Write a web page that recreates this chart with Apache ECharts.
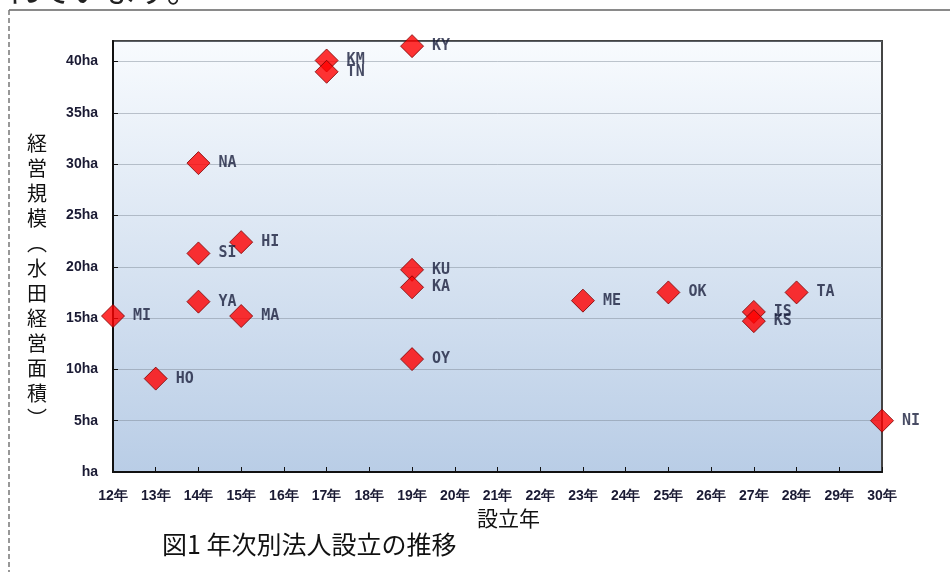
<!DOCTYPE html>
<html>
<head>
<meta charset="utf-8">
<script src="https://cdn.jsdelivr.net/npm/echarts@6/dist/echarts.min.js"></script>
<style>
  html, body { margin: 0; padding: 0; background: #fff; }
  #main { width: 950px; height: 572px; }
</style>
</head>
<body>
<div id="main"></div>
<script>
// 法人名・設立年・経営規模
var names = ['MI', 'HO', 'YA', 'SI', 'NA', 'HI', 'MA', 'KM', 'TN', 'KY', 'KU', 'KA', 'OY', 'ME', 'OK', 'IS', 'KS', 'TA', 'NI'];
var years = [12, 13, 14, 14, 14, 15, 15, 17, 17, 19, 19, 19, 19, 23, 25, 27, 27, 28, 30];
var areas = [15.2, 9.1, 16.6, 21.3, 30.1, 22.4, 15.2, 40.1, 39.0, 41.5, 19.7, 18.0, 11.0, 16.7, 17.5, 15.6, 14.7, 17.5, 5.0];

var yTickLabels = ['ha', '5ha', '10ha', '15ha', '20ha', '25ha', '30ha', '35ha', '40ha'];

var myChart = echarts.init(document.getElementById('main'));

var points = [];
for (var i = 0; i < names.length; i++) {
    points.push([years[i], areas[i], names[i]]);
}

var yTitle = '経営規模︵水田経営面積︶'.split('').join('\n');

myChart.setOption({
    animation: false,
    backgroundColor: '#fff',
    grid: {
        left: 113,
        right: 68,
        top: 41,
        bottom: 100,
        show: true,
        borderColor: '#444',
        borderWidth: 2,
        backgroundColor: new echarts.graphic.LinearGradient(0, 0, 0, 1, [
            { offset: 0, color: '#f8fbfe' },
            { offset: 1, color: '#b9cde6' }
        ])
    },
    xAxis: {
        type: 'value',
        min: 12,
        max: 30,
        interval: 1,
        axisLine: { lineStyle: { color: '#111', width: 2 } },
        axisTick: { inside: true, length: 5, lineStyle: { color: '#111' } },
        splitLine: { show: false },
        axisLabel: {
            margin: 17,
            fontFamily: 'Liberation Sans',
            fontWeight: 'bold',
            fontSize: 14,
            color: '#1a1a33',
            formatter: function (v) { return v + '年'; }
        }
    },
    yAxis: {
        type: 'value',
        min: 0,
        max: 42,
        interval: 5,
        axisLine: { show: true, lineStyle: { color: '#111', width: 2 } },
        axisTick: { show: true, inside: true, length: 5, lineStyle: { color: '#111' } },
        splitLine: { lineStyle: { color: 'rgba(120,130,145,0.45)', width: 1 } },
        axisLabel: {
            margin: 15,
            showMaxLabel: false,
            fontFamily: 'Liberation Sans',
            fontWeight: 'bold',
            fontSize: 14,
            color: '#1a1a33',
            formatter: function (v) {
                var idx = Math.round(v / 5);
                return (v % 5 === 0 && idx < yTickLabels.length) ? yTickLabels[idx] : '';
            }
        }
    },
    series: [{
        type: 'scatter',
        clip: false,
        symbol: 'diamond',
        symbolSize: [23, 23],
        itemStyle: { color: '#ff0000', borderColor: '#7a0000', borderWidth: 1 },
        label: {
            show: true,
            position: 'right',
            distance: 8,
            fontFamily: 'DejaVu Sans Mono',
            fontWeight: 'bold',
            fontSize: 15,
            color: '#1a1f3d',
            formatter: function (p) { return p.data[2]; }
        },
        data: points
    }],
    graphic: [
        {
            type: 'line',
            shape: { x1: 9, y1: 10, x2: 950, y2: 10 },
            style: { stroke: '#8a8a8a', lineWidth: 2 }
        },
        {
            type: 'line',
            shape: { x1: 9, y1: 10, x2: 9, y2: 572 },
            style: { stroke: '#777', lineWidth: 1.5, lineDash: [5, 3] }
        },
        {
            type: 'text',
            left: -28,
            top: -27,
            style: {
                text: 'されています。',
                fontFamily: 'Noto Sans CJK JP',
                fontSize: 33,
                fill: '#222'
            }
        },
        {
            type: 'text',
            left: 27,
            top: 131,
            style: {
                text: yTitle,
                fontFamily: 'Noto Sans CJK JP',
                fontSize: 20,
                lineHeight: 25,
                align: 'center',
                fill: '#111'
            }
        },
        {
            type: 'text',
            left: 477,
            top: 508,
            style: {
                text: '設立年',
                fontFamily: 'Noto Sans CJK JP',
                fontSize: 21,
                fill: '#111'
            }
        },
        {
            type: 'text',
            left: 162,
            top: 532,
            style: {
                text: '図1 年次別法人設立の推移',
                fontFamily: 'Noto Sans CJK JP',
                fontSize: 25,
                fill: '#111'
            }
        }
    ]
});
</script>
</body>
</html>
